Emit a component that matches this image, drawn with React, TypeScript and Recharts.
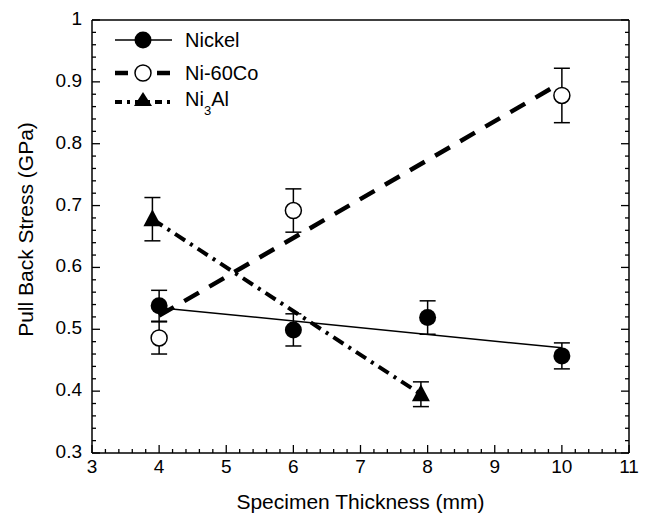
import React from "react";
import { ComposedChart, Line, Scatter, ErrorBar, XAxis, YAxis } from "recharts";

const FONT = '"Liberation Sans", Arial, Helvetica, sans-serif';
const W = 652;
const H = 516;

// measured points (mm, GPa) with error half-widths
const nickelThickness = [4, 6, 8, 10];
const nickelStress = [0.538, 0.499, 0.519, 0.457];
const nickelError = [0.025, 0.026, 0.027, 0.021];

const coThickness = [4, 6, 10];
const coStress = [0.486, 0.692, 0.878];
const coError = [0.026, 0.035, 0.044];

const alThickness = [3.9, 7.9];
const alStress = [0.678, 0.395];
const alError = [0.035, 0.02];

// trend lines
const nickelFitThickness = [4, 10];
const nickelFitStress = [0.535, 0.47];
const coFitThickness = [4, 9.9];
const coFitStress = [0.522, 0.893];
const alFitThickness = [3.9, 7.9];
const alFitStress = [0.678, 0.395];

const xMajorTicks = [3, 4, 5, 6, 7, 8, 9, 10, 11];
const yMajorTicks = [0.3, 0.4, 0.5, 0.6, 0.7, 0.8, 0.9, 1];

const withMinor = (major: number[]) =>
  major.flatMap((t, i) =>
    i === major.length - 1
      ? [t]
      : [0, 1, 2, 3, 4].map((k) => +(t + (k * (major[i + 1] - t)) / 5).toFixed(4))
  );
const xTicks = withMinor(xMajorTicks);
const yTicks = withMinor(yMajorTicks);
const isMajor = (v: number, list: number[]) => list.some((m) => Math.abs(m - v) < 1e-6);

const points = (xs: number[], ys: number[], errs?: number[]) =>
  xs.map((x, i) => ({ x, y: ys[i], err: errs ? errs[i] : 0 }));

const nickelData = points(nickelThickness, nickelStress, nickelError);
const coData = points(coThickness, coStress, coError);
const alData = points(alThickness, alStress, alError);
const nickelFit = points(nickelFitThickness, nickelFitStress);
const coFit = points(coFitThickness, coFitStress);
const alFit = points(alFitThickness, alFitStress);

const CO_DASH = "17 12";
const AL_DASH = "12 6 3 6";

const FilledDot = (p: any) => <circle cx={p.cx} cy={p.cy} r={8.5} fill="#000" />;
const OpenDot = (p: any) => (
  <circle cx={p.cx} cy={p.cy} r={8} fill="#fff" stroke="#000" strokeWidth={1.5} />
);
const Triangle = (p: any) => (
  <polygon
    points={`${p.cx},${p.cy - 10} ${p.cx - 9},${p.cy + 7} ${p.cx + 9},${p.cy + 7}`}
    fill="#000"
  />
);

const tickStroke = { stroke: "#000", strokeWidth: 1.3 };

const BottomTick = (props: any) => {
  const { x, y, payload } = props;
  const major = isMajor(payload.value, xMajorTicks);
  return (
    <g>
      <line x1={x} x2={x} y1={y} y2={y - (major ? 8 : 4)} {...tickStroke} />
      {major && (
        <text x={x} y={y + 20} textAnchor="middle" fontSize={19} fontFamily={FONT} fill="#000">
          {payload.value}
        </text>
      )}
    </g>
  );
};

const TopTick = (props: any) => {
  const { x, y, payload } = props;
  const major = isMajor(payload.value, xMajorTicks);
  return <line x1={x} x2={x} y1={y} y2={y + (major ? 8 : 4)} {...tickStroke} />;
};

const LeftTick = (props: any) => {
  const { x, y, payload } = props;
  const major = isMajor(payload.value, yMajorTicks);
  return (
    <g>
      <line x1={x} x2={x + (major ? 8 : 4)} y1={y} y2={y} {...tickStroke} />
      {major && (
        <text x={x - 10} y={y + 5} textAnchor="end" fontSize={19} fontFamily={FONT} fill="#000">
          {String(Math.round(payload.value * 10) / 10)}
        </text>
      )}
    </g>
  );
};

const RightTick = (props: any) => {
  const { x, y, payload } = props;
  const major = isMajor(payload.value, yMajorTicks);
  return <line x1={x} x2={x - (major ? 8 : 4)} y1={y} y2={y} {...tickStroke} />;
};

const YTitle = (props: any) => {
  const vb = props.viewBox || { x: 0, y: 20, width: 92, height: 433 };
  const cx = 25;
  const cy = vb.y + vb.height / 2 - 7;
  return (
    <text
      x={cx}
      y={cy}
      dy={7.5}
      transform={`rotate(-90, ${cx}, ${cy})`}
      textAnchor="middle"
      fontSize={21}
      fontFamily={FONT}
      fill="#000"
    >
      Pull Back Stress (GPa)
    </text>
  );
};

const axisLine = { stroke: "#000", strokeWidth: 1.5 };

function LegendBox() {
  const text = { fontSize: 20, fontFamily: FONT, fill: "#000" };
  return (
    <svg width={W} height={H} style={{ position: "absolute", left: 0, top: 0, pointerEvents: "none" }}>
      <line x1={115} x2={172} y1={40} y2={40} stroke="#000" strokeWidth={1.5} />
      <circle cx={143} cy={40} r={8.5} fill="#000" />
      <text x={185} y={47} {...text}>Nickel</text>

      <line x1={115} x2={128} y1={73} y2={73} stroke="#000" strokeWidth={4.5} />
      <line x1={157} x2={170} y1={73} y2={73} stroke="#000" strokeWidth={4.5} />
      <circle cx={143} cy={73} r={8} fill="#fff" stroke="#000" strokeWidth={1.5} />
      <text x={185} y={80} {...text}>Ni-60Co</text>

      <line x1={115} x2={172} y1={102} y2={102} stroke="#000" strokeWidth={4} strokeDasharray="7 5 3 5" />
      <polygon points="143,92 134,106 152,106" fill="#000" />
      <text x={185} y={106} {...text}>
        Ni
        <tspan dy={9} fontSize={13}>3</tspan>
        <tspan dy={-9}>Al</tspan>
      </text>
    </svg>
  );
}

export default function App() {
  return (
    <div style={{ position: "absolute", left: 0, top: 0, width: W, height: H, background: "#fff" }}>
      <ComposedChart width={W} height={H} margin={{ top: 19, right: 22, bottom: 0, left: 0 }}>
        <XAxis
          dataKey="x"
          type="number"
          domain={[3, 11]}
          ticks={xTicks}
          interval={0}
          allowDataOverflow
          height={63}
          tickSize={0}
          tickMargin={0}
          tickLine={false}
          axisLine={axisLine}
          tick={BottomTick}
          label={{
            value: "Specimen Thickness (mm)",
            position: "insideBottom",
            offset: 7,
            fontSize: 21,
            fontFamily: FONT,
            fill: "#000",
          }}
        />
        <XAxis
          xAxisId="top"
          orientation="top"
          type="number"
          domain={[3, 11]}
          ticks={xTicks}
          interval={0}
          allowDataOverflow
          height={1}
          tickSize={0}
          tickMargin={0}
          tickLine={false}
          axisLine={axisLine}
          tick={TopTick}
        />
        <YAxis
          dataKey="y"
          type="number"
          domain={[0.3, 1]}
          ticks={yTicks}
          interval={0}
          allowDataOverflow
          width={92}
          tickSize={0}
          tickMargin={0}
          tickLine={false}
          axisLine={axisLine}
          tick={LeftTick}
          label={{ content: YTitle }}
        />
        <YAxis
          yAxisId="right"
          orientation="right"
          type="number"
          domain={[0.3, 1]}
          ticks={yTicks}
          interval={0}
          allowDataOverflow
          width={1}
          tickSize={0}
          tickMargin={0}
          tickLine={false}
          axisLine={axisLine}
          tick={RightTick}
        />

        <Line data={nickelFit} dataKey="y" stroke="#000" strokeWidth={1.5} dot={false} activeDot={false} isAnimationActive={false} />
        <Line data={coFit} dataKey="y" stroke="#000" strokeWidth={4.5} strokeDasharray={CO_DASH} dot={false} activeDot={false} isAnimationActive={false} />
        <Line data={alFit} dataKey="y" stroke="#000" strokeWidth={4} strokeDasharray={AL_DASH} dot={false} activeDot={false} isAnimationActive={false} />

        <Scatter data={nickelData} dataKey="y" shape={FilledDot} isAnimationActive={false}>
          <ErrorBar dataKey="err" direction="y" width={8} stroke="#000" strokeWidth={1.5} isAnimationActive={false} />
        </Scatter>
        <Scatter data={coData} dataKey="y" shape={OpenDot} isAnimationActive={false}>
          <ErrorBar dataKey="err" direction="y" width={8} stroke="#000" strokeWidth={1.5} isAnimationActive={false} />
        </Scatter>
        <Scatter data={alData} dataKey="y" shape={Triangle} isAnimationActive={false}>
          <ErrorBar dataKey="err" direction="y" width={8} stroke="#000" strokeWidth={1.5} isAnimationActive={false} />
        </Scatter>
      </ComposedChart>
      <LegendBox />
    </div>
  );
}
